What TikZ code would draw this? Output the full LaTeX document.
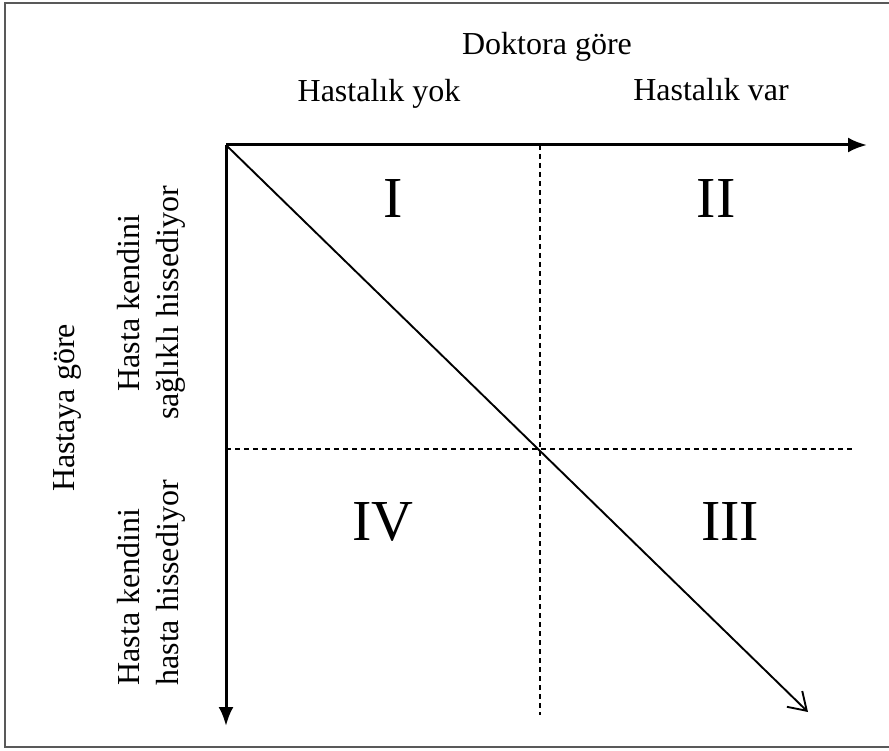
\documentclass[tikz,border=0pt]{standalone}
\usepackage{fontspec}
\setmainfont{Liberation Serif}
\usetikzlibrary{arrows.meta}
\begin{document}
\begin{tikzpicture}[x=1pt,y=-1pt,
  lbl/.style={font=\fontsize{32}{39}\selectfont, inner sep=0pt},
  roman/.style={font=\fontsize{58}{60}\selectfont, inner sep=0pt, anchor=base},
  axis/.style={line width=3pt, -{Latex[length=19pt,width=15pt]}},
  diag/.style={line width=1.9pt, -{Straight Barb[length=17pt,width=22pt,line width=1.9pt]}},
  dashln/.style={line width=1.1pt, dash pattern=on 5pt off 4pt},
  frame/.style={line width=2pt, draw=black!65}]
\useasboundingbox (0,0) rectangle (889,751);
\fill[white] (0,0) rectangle (889,751);
% frame
\draw[frame] (895,3) -- (5,3) -- (5,747) -- (895,747);
% coordinates
\coordinate (O) at (226,145);
\coordinate (xend) at (867,145);
\coordinate (yend) at (226,726);
\coordinate (dend) at (808,712);
\coordinate (vtop) at (540,145);
\coordinate (vbot) at (540,715);
\coordinate (hleft) at (226,449);
\coordinate (hright) at (852,449);
% dashed lines
\draw[dashln] (vtop) -- (vbot);
\draw[dashln] (hleft) -- (hright);
% axes
\draw[axis] (O) -- (xend);
\draw[axis] (O) -- (yend);
\draw[diag] (O) -- (dend);
% labels
\node[lbl, anchor=base] (dok) at (547,55) {Doktora göre};
\node[lbl, anchor=base] (yok) at (379,102) {Hastalık yok};
\node[lbl, anchor=base] (var) at (711,101) {Hastalık var};
\node[lbl, anchor=base, rotate=90] (hg) at (74,408) {Hastaya göre};
\node[lbl, rotate=90, align=center] (saglikli) at (151,303) {Hasta kendini\\sağlıklı hissediyor};
\node[lbl, rotate=90, align=left] (hasta) at (151,583) {Hasta kendini\\hasta hissediyor};
% quadrants
\node[roman] (q1) at (393,218) {I};
\node[roman] (q2) at (716,218) {II};
\node[roman] (q4) at (383,540) {IV};
\node[roman] (q3) at (730,540) {III};
\end{tikzpicture}
\end{document}
